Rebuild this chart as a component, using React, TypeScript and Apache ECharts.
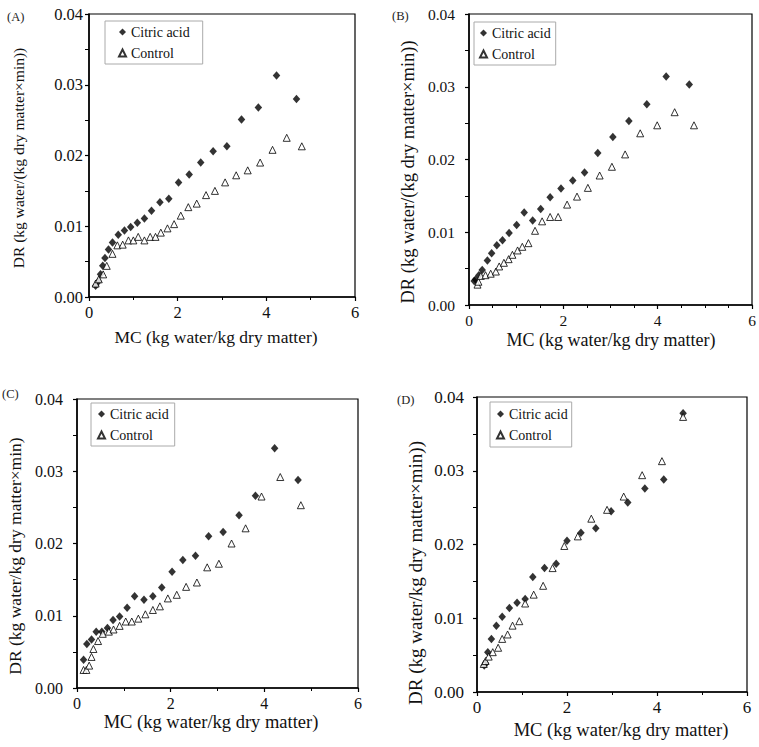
import React, { useEffect, useRef } from 'react';
import * as echarts from 'echarts';

// MC (kg water/kg dry matter), DR pairs
const citricA = [
  [0.15, 0.0016], [0.21, 0.0022], [0.26, 0.0032], [0.31, 0.0044], [0.36, 0.0055],
  [0.44, 0.0067], [0.53, 0.0077], [0.66, 0.0088], [0.8, 0.0094], [0.94, 0.0099],
  [1.09, 0.0105], [1.25, 0.0111], [1.41, 0.0122], [1.6, 0.0134], [1.8, 0.0139],
  [2.02, 0.0162], [2.26, 0.0173], [2.52, 0.019], [2.8, 0.0206], [3.11, 0.0213],
  [3.44, 0.0251], [3.82, 0.0268], [4.23, 0.0313], [4.68, 0.028],
];
const controlA = [
  [0.15, 0.0019], [0.22, 0.0025], [0.32, 0.0032], [0.4, 0.0044], [0.53, 0.0061],
  [0.64, 0.0073], [0.76, 0.0074], [0.89, 0.008], [1.0, 0.008], [1.11, 0.0085],
  [1.25, 0.008], [1.38, 0.0085], [1.5, 0.0085], [1.62, 0.0091], [1.77, 0.0097],
  [1.92, 0.0103], [2.07, 0.0115], [2.24, 0.0127], [2.43, 0.0132], [2.64, 0.0144],
  [2.84, 0.015], [3.07, 0.0162], [3.32, 0.0172], [3.58, 0.0179], [3.86, 0.019],
  [4.14, 0.0208], [4.46, 0.0225], [4.8, 0.0213],
];
const citricB = [
  [0.11, 0.0033], [0.14, 0.0035], [0.21, 0.0041], [0.28, 0.0048], [0.39, 0.0061],
  [0.48, 0.0071], [0.59, 0.0082], [0.71, 0.0089], [0.85, 0.0099], [1.01, 0.011],
  [1.17, 0.0127], [1.35, 0.0116], [1.52, 0.0132], [1.72, 0.0148], [1.95, 0.016],
  [2.2, 0.0171], [2.45, 0.0182], [2.73, 0.0209], [3.05, 0.0231], [3.39, 0.0253],
  [3.77, 0.0276], [4.18, 0.0314], [4.67, 0.0303],
];
const controlB = [
  [0.18, 0.0028], [0.2, 0.0032], [0.25, 0.004], [0.35, 0.0041], [0.46, 0.0043],
  [0.57, 0.0046], [0.64, 0.0053], [0.74, 0.0058], [0.84, 0.0063], [0.92, 0.0069],
  [1.03, 0.0075], [1.13, 0.008], [1.26, 0.0085], [1.4, 0.0102], [1.55, 0.0115],
  [1.72, 0.0121], [1.89, 0.0121], [2.08, 0.0138], [2.29, 0.0149], [2.52, 0.0161],
  [2.77, 0.0178], [3.03, 0.019], [3.31, 0.0207], [3.63, 0.0236], [3.99, 0.0247],
  [4.36, 0.0265], [4.77, 0.0247],
];
const citricC = [
  [0.14, 0.0039], [0.21, 0.0061], [0.31, 0.0067], [0.41, 0.0078], [0.53, 0.0078],
  [0.65, 0.0083], [0.77, 0.0094], [0.91, 0.0099], [1.07, 0.0111], [1.23, 0.0127],
  [1.43, 0.0122], [1.62, 0.0127], [1.81, 0.0139], [2.03, 0.0161], [2.26, 0.0177],
  [2.53, 0.0183], [2.81, 0.021], [3.12, 0.0216], [3.46, 0.0239], [3.81, 0.0266],
  [4.22, 0.0332], [4.72, 0.0288],
];
const controlC = [
  [0.14, 0.0025], [0.2, 0.0025], [0.26, 0.0031], [0.31, 0.0043], [0.35, 0.0054],
  [0.45, 0.0065], [0.55, 0.0075], [0.68, 0.0078], [0.78, 0.0081], [0.91, 0.0086],
  [1.04, 0.0092], [1.17, 0.0092], [1.31, 0.0096], [1.46, 0.0102], [1.62, 0.0108],
  [1.77, 0.0113], [1.94, 0.0124], [2.13, 0.0129], [2.33, 0.014], [2.56, 0.0146],
  [2.78, 0.0167], [3.03, 0.0172], [3.3, 0.02], [3.6, 0.0221], [3.94, 0.0265],
  [4.34, 0.0292], [4.78, 0.0253],
];
const citricD = [
  [0.16, 0.0036], [0.19, 0.0039], [0.24, 0.0054], [0.32, 0.0072], [0.43, 0.009],
  [0.56, 0.0102], [0.72, 0.0114], [0.89, 0.0121], [1.07, 0.0126], [1.24, 0.0156],
  [1.5, 0.0168], [1.76, 0.0174], [2.0, 0.0205], [2.31, 0.0216], [2.64, 0.0222],
  [2.98, 0.0245], [3.35, 0.0257], [3.73, 0.0276], [4.15, 0.0288], [4.58, 0.0378],
];
const controlD = [
  [0.15, 0.0038], [0.19, 0.0042], [0.26, 0.0048], [0.35, 0.0054], [0.47, 0.006],
  [0.56, 0.0072], [0.68, 0.0078], [0.79, 0.009], [0.94, 0.0096], [1.07, 0.012],
  [1.26, 0.0132], [1.47, 0.0144], [1.68, 0.0168], [1.94, 0.0198], [2.24, 0.0211],
  [2.54, 0.0235], [2.89, 0.0247], [3.26, 0.0265], [3.67, 0.0294], [4.11, 0.0313],
  [4.58, 0.0373],
];

const panelLabels = ['(A)', '(B)', '(C)', '(D)'];
const seriesNames = ['Citric acid', 'Control'];
const xTitle = 'MC (kg water/kg dry matter)';
const yTitles = [
  'DR (kg water/(kg dry matter×min))',
  'DR (kg water/(kg dry matter×min))',
  'DR (kg water/kg dry matter×min)',
  'DR (kg water/kg dry matter×min))',
];

const serif = 'Liberation Serif';
const ink = '#111';

const App: React.FC = () => {
  const chartRef: any = useRef();

  useEffect(() => {
    document.body.style.margin = '0';
    const chart = echarts.init(chartRef.current, null, { renderer: 'svg' });

    // layout of each panel in the composite figure
    const panels = [
      {
        citric: citricA, control: controlA, minor: 2,
        grid: { left: 89, top: 14, width: 266, height: 283 },
        tick: 16.5, yMargin: 6,
        xName: { x: 216, y: 337, size: 17.5 }, yName: { x: 18, y: 158, size: 15.5 },
        label: [7, 10], legend: [105, 21], legendPad: [4, 13, 4, 13],
      },
      {
        citric: citricB, control: controlB, minor: 4,
        grid: { left: 469, top: 14, width: 283, height: 291 },
        tick: 15.5, yMargin: 14,
        xName: { x: 611, y: 340, size: 18 }, yName: { x: 408, y: 172, size: 18.5 },
        label: [392, 9], legend: [474, 22], legendPad: [4, 5, 4, 5],
      },
      {
        citric: citricC, control: controlC, minor: 2,
        grid: { left: 77, top: 399, width: 281, height: 289 },
        tick: 16, yMargin: 14,
        xName: { x: 211, y: 722, size: 18.5 }, yName: { x: 15, y: 556, size: 17.5 },
        label: [2, 387], legend: [91, 403], legendPad: [4, 6, 4, 6],
      },
      {
        citric: citricD, control: controlD, minor: 2,
        grid: { left: 477, top: 397, width: 270, height: 295 },
        tick: 17, yMargin: 13,
        xName: { x: 621, y: 730, size: 18.5 }, yName: { x: 415, y: 573, size: 19 },
        label: [397, 393], legend: [490, 402], legendPad: [5, 4, 5, 6],
      },
    ];

    const option = {
      animation: false,
      backgroundColor: '#fff',
      textStyle: { fontFamily: serif, color: ink },
      grid: panels.map((p) => ({
        ...p.grid,
        show: true,
        borderColor: '#000',
        borderWidth: 1.2,
        backgroundColor: 'transparent',
      })),
      xAxis: panels.map((p, i) => ({
        type: 'value',
        gridIndex: i,
        min: 0,
        max: 6,
        interval: 2,
        axisLine: { onZero: false, lineStyle: { color: '#000', width: 1.5 } },
        axisTick: { length: 4, lineStyle: { color: '#000', width: 1.2 } },
        minorTick: { show: true, splitNumber: p.minor, length: 3, lineStyle: { color: '#000', width: 1 } },
        axisLabel: { fontFamily: serif, fontSize: p.tick, color: ink, margin: 7 },
        splitLine: { show: false },
      })),
      yAxis: panels.map((p, i) => ({
        type: 'value',
        gridIndex: i,
        min: 0,
        max: 0.04,
        interval: 0.01,
        axisLine: { onZero: false, lineStyle: { color: '#000', width: 1.5 } },
        axisTick: { length: 4, lineStyle: { color: '#000', width: 1.2 } },
        minorTick: { show: true, splitNumber: 2, length: 4, lineStyle: { color: '#000', width: 1 } },
        axisLabel: {
          fontFamily: serif,
          fontSize: p.tick,
          color: ink,
          margin: p.yMargin,
          formatter: (v: number) => v.toFixed(2),
        },
        splitLine: { show: false },
      })),
      legend: panels.map((p) => ({
        left: p.legend[0],
        top: p.legend[1],
        orient: 'vertical',
        data: seriesNames,
        selectedMode: false,
        borderColor: '#aaa',
        borderWidth: 1,
        padding: p.legendPad,
        itemGap: 7,
        itemWidth: 7,
        itemHeight: 7,
        textStyle: { fontFamily: serif, fontSize: 14, color: ink },
      })),
      graphic: panels.flatMap((p, i) => [
        {
          type: 'text',
          left: p.label[0],
          top: p.label[1],
          style: { text: panelLabels[i], fontFamily: serif, fontSize: 12.5, fill: '#222' },
        },
        {
          type: 'text',
          x: p.xName.x,
          y: p.xName.y,
          style: {
            text: xTitle, fontFamily: serif, fontSize: p.xName.size, fill: ink,
            align: 'center', verticalAlign: 'middle',
          },
        },
        {
          type: 'text',
          x: p.yName.x,
          y: p.yName.y,
          rotation: Math.PI / 2,
          style: {
            text: yTitles[i], fontFamily: serif, fontSize: p.yName.size, fill: ink,
            align: 'center', verticalAlign: 'middle',
          },
        },
      ]),
      series: panels.flatMap((p, i) => [
        {
          name: seriesNames[0],
          type: 'scatter',
          xAxisIndex: i,
          yAxisIndex: i,
          symbol: 'diamond',
          symbolSize: [7.5, 8.5],
          itemStyle: { color: '#000' },
          data: p.citric,
        },
        {
          name: seriesNames[1],
          type: 'scatter',
          xAxisIndex: i,
          yAxisIndex: i,
          symbol: 'triangle',
          symbolSize: 7,
          itemStyle: { color: '#fff', borderColor: '#000', borderWidth: 1 },
          data: p.control,
        },
      ]),
    };

    chart.setOption(option);
    return () => {
      chart.dispose();
    };
  }, []);

  return <div ref={chartRef} style={{ width: 759, height: 747 }}></div>;
};

export default App;
